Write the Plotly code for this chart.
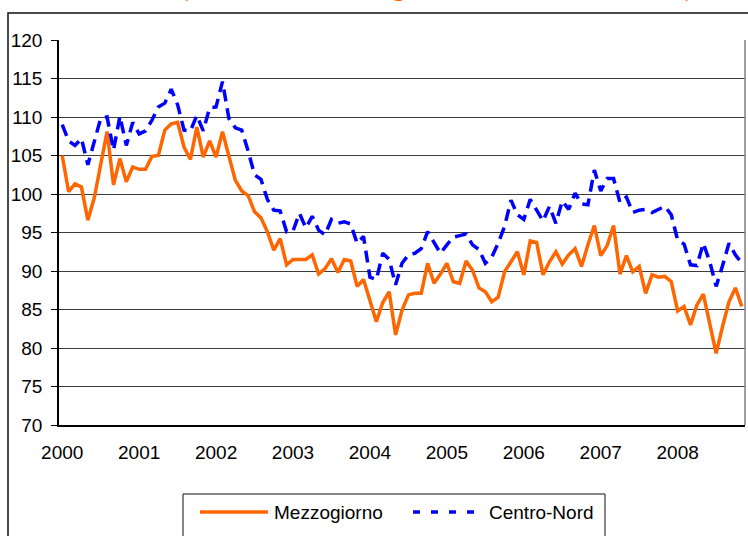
import plotly.graph_objects as go

# ---- data (monthly index, Jan 2000 - Nov 2008) ----
years = ["2000", "2001", "2002", "2003", "2004", "2005", "2006", "2007", "2008"]
series_names = ["Mezzogiorno", "Centro-Nord"]

mezzogiorno = [
    105.0, 100.3, 101.3, 100.9, 96.6, 99.5, 103.8, 108.1, 101.2, 104.6, 101.6, 103.5,
    103.2, 103.2, 104.9, 105.0, 108.3, 109.1, 109.3, 106.1, 104.5, 108.7, 104.8, 106.9,
    104.8, 108.1, 104.9, 101.8, 100.4, 99.8, 97.7, 96.9, 95.1, 92.7, 94.2, 90.8,
    91.5, 91.5, 91.5, 92.1, 89.6, 90.3, 91.6, 89.8, 91.5, 91.3, 88.0, 88.9,
    86.2, 83.4, 85.9, 87.3, 81.7, 84.9, 86.9, 87.1, 87.1, 91.0, 88.4, 89.6,
    91.0, 88.6, 88.4, 91.3, 90.1, 87.8, 87.3, 86.0, 86.6, 89.9, 91.2, 92.5,
    89.5, 93.9, 93.7, 89.5, 91.2, 92.5, 90.9, 92.1, 92.9, 90.6, 93.4, 95.9,
    92.0, 93.3, 95.9, 89.6, 92.0, 89.9, 90.6, 87.1, 89.5, 89.2, 89.3, 88.6,
    84.8, 85.4, 83.0, 85.6, 87.0, 83.2, 79.3, 82.8, 86.0, 87.8, 85.4,
]

centro_nord = [
    109.0, 106.9, 106.3, 107.2, 103.8, 106.7, 109.8, 110.0, 105.7, 110.1, 106.3, 109.3,
    107.8, 108.2, 109.6, 111.3, 111.8, 113.6, 111.6, 108.3, 108.2, 110.2, 108.2, 111.2,
    111.3, 114.6, 109.8, 108.6, 108.3, 105.6, 102.5, 101.9, 99.3, 97.9, 97.8, 95.1,
    95.2, 97.5, 95.6, 97.1, 95.3, 94.7, 96.7, 96.2, 96.4, 96.1, 93.6, 94.5,
    89.2, 88.9, 92.3, 91.5, 88.2, 91.0, 92.1, 92.3, 92.9, 95.1, 93.6, 92.3,
    93.4, 94.4, 94.6, 94.8, 93.4, 92.8, 91.0, 91.8, 93.6, 95.8, 99.2, 97.3,
    96.7, 99.3, 97.9, 96.5, 98.4, 96.2, 99.1, 98.0, 100.1, 98.7, 98.6, 103.1,
    100.4, 102.0, 102.0, 98.9, 99.6, 97.6, 97.9, 98.0, 97.6, 98.0, 98.4, 97.3,
    94.0, 93.5, 90.8, 90.7, 93.6, 91.2, 88.0, 90.7, 93.6, 92.1, 91.0,
]

y_ticks = [70, 75, 80, 85, 90, 95, 100, 105, 110, 115, 120]
title_text = "(numeri indice destagionalizzati, base 2000=100)"

# ---- layout helpers (pixel -> paper) ----
W, H = 748, 536
L, R, T, B = 59, 745, 40, 425


def fx(p):
    return (p - L) / (R - L)


def fy(p):
    return (B - p) / (B - T)


ORANGE = "#FF6600"
BLUE = "#0000FF"
FONT = "Liberation Sans, Arial, sans-serif"

months = list(range(len(mezzogiorno)))

fig = go.Figure()
fig.add_trace(go.Scatter(x=months, y=mezzogiorno, mode="lines", name=series_names[0],
                         line=dict(color=ORANGE, width=3.5)))
fig.add_trace(go.Scatter(x=months, y=centro_nord, mode="lines", name=series_names[1],
                         line=dict(color=BLUE, width=3.5, dash="12px,7px")))

shapes = [
    # outer chart frame
    dict(type="rect", xref="paper", yref="paper", x0=fx(8), x1=fx(900), y0=fy(700), y1=fy(13),
         line=dict(color="#111111", width=1.5), fillcolor="rgba(0,0,0,0)"),
    # right border of plot area
    dict(type="line", xref="paper", yref="paper", x0=1, x1=1, y0=0, y1=1,
         line=dict(color="#808080", width=1.5)),
    # legend box
    dict(type="rect", xref="paper", yref="paper", x0=fx(183), x1=fx(605), y0=fy(600), y1=fy(494),
         line=dict(color="#111111", width=1), fillcolor="white"),
    # legend samples
    dict(type="line", xref="paper", yref="paper", x0=fx(200), x1=fx(268), y0=fy(512), y1=fy(512),
         line=dict(color=ORANGE, width=3.5)),
    dict(type="line", xref="paper", yref="paper", x0=fx(413), x1=fx(485), y0=fy(512), y1=fy(512),
         line=dict(color=BLUE, width=3.5, dash="7px,11px")),
]

annotations = [
    dict(text=series_names[0], xref="paper", yref="paper", x=fx(272), y=fy(512),
         xanchor="left", yanchor="middle", showarrow=False,
         font=dict(family=FONT, size=19, color="black")),
    dict(text=series_names[1], xref="paper", yref="paper", x=fx(487), y=fy(512),
         xanchor="left", yanchor="middle", showarrow=False,
         font=dict(family=FONT, size=19, color="black")),
    dict(text=title_text, xref="paper", yref="paper", x=fx(437), y=fy(3.5),
         xanchor="center", yanchor="bottom", showarrow=False, borderpad=0,
         font=dict(family="Liberation Serif, Times New Roman, serif", size=26, color=ORANGE)),
]

fig.update_layout(
    width=W, height=H,
    margin=dict(l=L, r=W - R, t=T, b=H - B, pad=0),
    paper_bgcolor="white", plot_bgcolor="white",
    showlegend=False,
    shapes=shapes, annotations=annotations,
    font=dict(family=FONT, size=19, color="black"),
)
fig.update_xaxes(
    range=[-0.5, len(months) - 0.5],
    tickmode="array", tickvals=[12 * k for k in range(len(years))], ticktext=years,
    showgrid=False, zeroline=False,
    showline=True, linecolor="black", linewidth=1.5,
    ticks="", ticklabelstandoff=9,
    tickfont=dict(family=FONT, size=19, color="black"),
)
fig.update_yaxes(
    range=[70, 120], tickmode="array", tickvals=y_ticks,
    showgrid=True, gridcolor="#3c3c3c", gridwidth=1, zeroline=False,
    showline=True, linecolor="black", linewidth=1.5,
    ticks="outside", ticklen=6, tickcolor="black", tickwidth=1,
    ticklabelstandoff=5,
    tickfont=dict(family=FONT, size=19, color="black"),
)

fig.write_html("out.html", config={"displayModeBar": False},
               post_script="document.body.style.margin='0';")
